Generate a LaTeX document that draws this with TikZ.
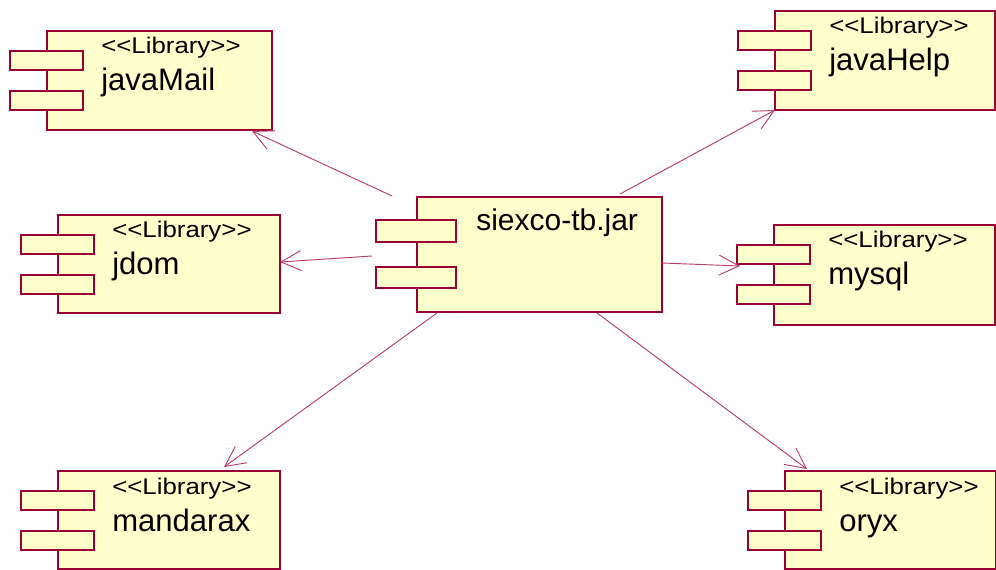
\documentclass[tikz,border=0pt]{standalone}
\usepackage{fontspec}
\setmainfont{Liberation Sans}
\newfontfamily\stereofont[FakeStretch=1.14]{Liberation Sans}
\usetikzlibrary{arrows.meta,fit}
\definecolor{umlborder}{RGB}{153,0,51}
\definecolor{umlfill}{RGB}{255,255,204}
\definecolor{umlline}{RGB}{185,60,105}
\tikzset{
  compbox/.style={draw=umlborder,fill=umlfill,line width=1.6pt,inner sep=0pt},
  tabbox/.style={draw=umlborder,fill=umlfill,line width=1.5pt,inner sep=0pt},
  stereo/.style={anchor=base west,inner sep=0pt,font=\stereofont\fontsize{17}{20}\selectfont},
  cname/.style={anchor=base west,inner sep=0pt,font=\fontsize{23.3}{28}\selectfont},
  dep/.style={draw=umlline,line width=0.7pt,-{Straight Barb[length=15pt,width=15pt,line width=0.7pt]}}
}
% #1 name, #2 left, #3 top, #4 right, #5 bottom, #6 component name
\newcommand\umlcomp[6]{%
  \node[compbox,fit={(#2,#3)(#4,#5)}] (#1) {};
  \node[tabbox,fit={(#2-37,#3+20)(#2+36,#3+39)}] (#1ta) {};
  \node[tabbox,fit={(#2-37,#3+60)(#2+36,#3+79)}] (#1tb) {};
  \node[stereo] (#1st) at (#2+54,#3+23) {<<Library>>};
  \node[cname] (#1nm) at (#2+54,#3+60) {#6};
}
\begin{document}
\begin{tikzpicture}[x=0.75pt,y=-0.75pt]
\useasboundingbox (0,0) rectangle (996,570);
\umlcomp{jm}{47}{31}{272}{130}{javaMail}
\umlcomp{jd}{58}{215}{280}{313}{jdom}
\umlcomp{md}{58}{471}{280}{569}{mandarax}
\umlcomp{jh}{775}{11}{995}{110}{javaHelp}
\umlcomp{my}{774}{225}{995}{325}{mysql}
\umlcomp{ox}{785}{471}{996}{569}{oryx}
% central component
\node[compbox,fit={(417,197)(662,312)}] (sx) {};
\node[tabbox,fit={(376,220)(456,242)}] (sxta) {};
\node[tabbox,fit={(376,267)(456,288)}] (sxtb) {};
\node[anchor=base west,inner sep=0pt,font=\fontsize{22.5}{27}\selectfont] (sxnm) at (476,231) {siexco-tb.jar};
% connector end points
\coordinate (sjm) at (392,196);
\coordinate (ejm) at (252,131);
\coordinate (sjd) at (372,256);
\coordinate (ejd) at (280,262);
\coordinate (sjh) at (620,194);
\coordinate (ejh) at (775,110);
\coordinate (smy) at (662,263);
\coordinate (emy) at (740,266);
\coordinate (smd) at (437,313);
\coordinate (emd) at (224,467);
\coordinate (sox) at (597,313);
\coordinate (eox) at (807,469);
\draw[dep] (sjm) -- (ejm);
\draw[dep] (sjd) -- (ejd);
\draw[dep] (sjh) -- (ejh);
\draw[dep] (smy) -- (emy);
\draw[dep] (smd) -- (emd);
\draw[dep] (sox) -- (eox);
\end{tikzpicture}
\end{document}
